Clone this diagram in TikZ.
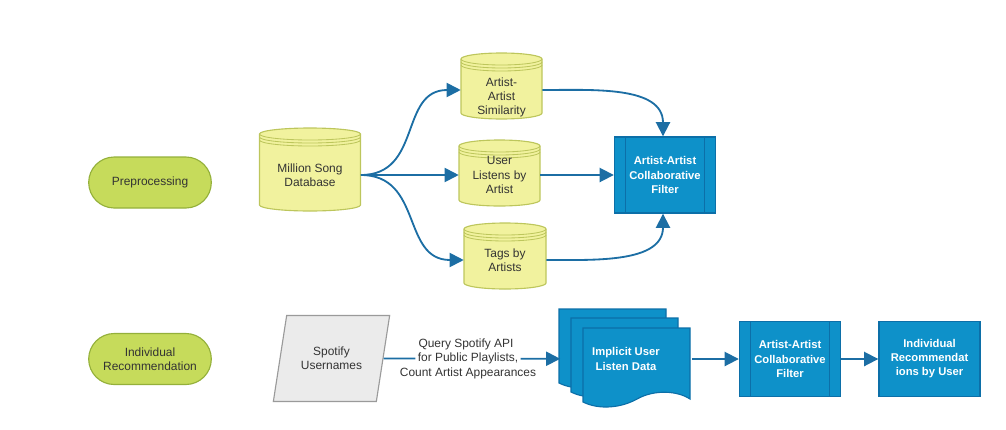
\documentclass[tikz,border=0pt]{standalone}
\usepackage{fontspec}
\setmainfont{Liberation Sans}
\usetikzlibrary{arrows.meta,shapes.geometric,shapes.misc}
\definecolor{txtgray}{HTML}{333333}
\definecolor{termfill}{HTML}{C6DB5B}
\definecolor{termline}{HTML}{94B03A}
\definecolor{dbfill}{HTML}{F1F29E}
\definecolor{dbline}{HTML}{BDC65C}
\definecolor{procfill}{HTML}{0E91C9}
\definecolor{procline}{HTML}{0C6FA8}
\definecolor{flowblue}{HTML}{1C6EA4}
\definecolor{iofill}{HTML}{EBEBEB}
\definecolor{ioline}{HTML}{9A9A9A}
\begin{document}
\begin{tikzpicture}[x=0.025cm,y=0.025cm,
	every node/.style={font=\fontsize{8.5}{10}\selectfont, text=txtgray, align=center},
	term/.style={rounded rectangle, draw=termline, fill=termfill, line width=0.8pt, minimum width=132*0.025cm, minimum height=51*0.025cm},
	procbox/.style={rectangle, draw=procline, fill=procfill, line width=1pt, text=white, font=\fontsize{8}{10}\selectfont\bfseries, minimum width=101*0.025cm, minimum height=76*0.025cm},
	predef/.style={procbox, path picture={
		\draw[procline, line width=0.8pt] ([xshift=11*0.025cm]path picture bounding box.north west) -- ([xshift=11*0.025cm]path picture bounding box.south west)
			([xshift=-11*0.025cm]path picture bounding box.north east) -- ([xshift=-11*0.025cm]path picture bounding box.south east);}},
	iobox/.style={trapezium, trapezium left angle=72, trapezium right angle=108, trapezium stretches=true, draw=ioline, fill=iofill, line width=0.8pt, minimum width=117*0.025cm, minimum height=86*0.025cm},
	flow/.style={draw=flowblue, line width=1.3pt, -{Triangle[length=10pt,width=10pt]}}
	]
	\useasboundingbox (0,0) rectangle (1006,-429);
	% row labels
	\node[term] (prep) at (150,-182.5) {Preprocessing};
	\node[term] (indiv) at (150,-359) {Individual\\Recommendation};
	% databases
	\foreach \n/\x/\y/\w/\h/\ty/\t in {msd/310/-169.5/101/83/-175/{Million Song\\Database},
			aas/501.5/-86/81/66/-97/{Artist-\\Artist\\Similarity},
			ula/499.5/-173/81/66/-175/{User\\Listens by\\Artist},
			tba/505/-256/82/66/-260/{Tags by\\Artists}} {
		\begin{scope}[shift={(\x,\y)}]
			\filldraw[draw=dbline, fill=dbfill, line width=0.8pt] ({-\w/2},{\h/2-6}) -- ({-\w/2},{-\h/2+6})
				arc[start angle=180, end angle=360, x radius=\w/2, y radius=6] -- ({\w/2},{\h/2-6})
				arc[start angle=0, end angle=180, x radius=\w/2, y radius=6] -- cycle;
			\foreach \d in {0,3,6}
				\draw[dbline, line width=0.6pt] ({\w/2},{\h/2-6-\d}) arc[start angle=0, end angle=-180, x radius=\w/2, y radius=6];
		\end{scope}
		\node[inner sep=0pt, minimum width=\w*0.025cm] (\n) at (\x,\ty) {\t};
	}
	\node[predef] (cf) at (665,-175) {Artist-Artist\\Collaborative\\Filter};
	\draw[flow] (msd.east) to[out=0,in=180,looseness=1.2] ([yshift=7*0.025cm]aas.west);
	\draw[flow] (msd.east) -- (ula.west);
	\draw[flow] (msd.east) to[out=0,in=180,looseness=1.2] (tba.west);
	\draw[flow] ([yshift=7*0.025cm]aas.east) to[out=0,in=90] ([xshift=-2*0.025cm]cf.north);
	\draw[flow] (ula.east) -- (cf.west);
	\draw[flow] (tba.east) to[out=0,in=-90] ([xshift=-2*0.025cm]cf.south);
	% second row
	\node[iobox] (spot) at (331.5,-358.5) {Spotify\\Usernames};
	\node[inner sep=1.5pt] (qry) at (468,-358.5) {for Public Playlists,};
	\node[anchor=base] (qrytop) at ([xshift=-2*0.025cm,yshift=14.5*0.025cm]qry.base) {Query Spotify API};
	\node[anchor=base] (qrybot) at ([yshift=-14.5*0.025cm]qry.base) {Count Artist Appearances};
	\foreach \dx/\dy in {0/0,12/-9,24/-19}
		\filldraw[draw=procline, fill=procfill, line width=0.8pt, shift={(559+\dx,-309+\dy)}] (0,0) -- (107,0) -- (107,-71)
			.. controls (95,-63) and (72,-61) .. (54,-71) .. controls (38,-80) and (16,-82) .. (0,-74) -- cycle;
	\node[minimum width=131*0.025cm, minimum height=98*0.025cm, text=white, font=\fontsize{8}{10}\selectfont\bfseries] (ild) at (626,-359) {Implicit User\\Listen Data};
	\node[predef, minimum height=75*0.025cm] (cf2) at (790,-359) {Artist-Artist\\Collaborative\\Filter};
	\node[procbox, minimum height=75*0.025cm] (irec) at (929.5,-359) {Individual\\Recommendat\\ions by User};
	\draw[draw=flowblue, line width=1.3pt] (spot) -- (qry);
	\draw[flow] (qry) -- (ild);
	\draw[flow] (ild) -- (cf2);
	\draw[flow] (cf2) -- (irec);
\end{tikzpicture}
\end{document}
